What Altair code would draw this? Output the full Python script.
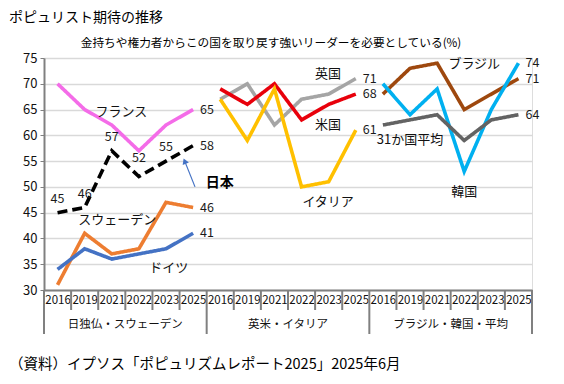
import altair as alt
import pandas as pd

FONT = "Noto Sans CJK JP"

years = ["2016", "2019", "2021", "2022", "2023", "2025"]
groups = ["日独仏・スウェーデン", "英米・イタリア", "ブラジル・韓国・平均"]

series_names = ["フランス", "日本", "スウェーデン", "ドイツ", "英国", "米国", "イタリア", "ブラジル", "韓国", "31か国平均"]
series_group = [0, 0, 0, 0, 1, 1, 1, 2, 2, 2]
france = [70, 65, 62, 57, 62, 65]
japan = [45, 46, 57, 52, 55, 58]
sweden = [31, 41, 37, 38, 47, 46]
germany = [34, 38, 36, 37, 38, 41]
uk = [67, 70, 62, 67, 68, 71]
us = [69, 66, 70, 63, 66, 68]
italy = [67, 59, 69, 50, 51, 61]
brazil = [68, 73, 74, 65, 68, 71]
korea = [70, 64, 69, 53, 65, 74]
average = [62, 63, 64, 59, 63, 64]
series_values = [france, japan, sweden, germany, uk, us, italy, brazil, korea, average]
colors = ["#F46CE8", "#000000", "#ED7D31", "#4472C4", "#A5A5A5", "#E8000B", "#FFC000", "#9E480E", "#00B0F0", "#636363"]
dashes = [[1, 0], [10, 5], [1, 0], [1, 0], [1, 0], [1, 0], [1, 0], [1, 0], [1, 0], [1, 0]]

# annotation labels for series names: (text, x in band units, y in value units)
name_labels = [
    ("フランス", 2.85, 64.5), ("スウェーデン", 2.7, 43.6), ("ドイツ", 4.6, 34.3),
    ("英国", 10.48, 71.9), ("米国", 10.48, 62.0), ("イタリア", 10.48, 47.0),
    ("ブラジル", 15.87, 73.8), ("31か国平均", 13.5, 59.1), ("韓国", 15.5, 49.0),
]

rows = []
for name, g, vals in zip(series_names, series_group, series_values):
    for i, v in enumerate(vals):
        rows.append({"series": name, "pos": g * 6 + i + 0.5, "value": v, "idx": i,
                     "last": i == len(vals) - 1})
df = pd.DataFrame(rows)

W, H = 488, 232
xs = alt.Scale(domain=[0, 18], nice=False, zero=False)
ys = alt.Scale(domain=[30, 75], nice=False, zero=False)

x_axis = alt.Axis(
    values=[i + 0.5 for i in range(18)],
    labelExpr="['2016','2019','2021','2022','2023','2025'][floor(datum.value) % 6]",
    ticks=False, grid=False, domainColor="#808080", domainWidth=2,
    labelFontSize=11.5, labelFont=FONT, labelColor="#111", labelPadding=4,
    labelOverlap=False, labelFlush=False, labelAngle=0, title=None)
y_axis = alt.Axis(
    values=list(range(30, 80, 5)), grid=True, gridColor="#D9D9D9", gridWidth=1.5,
    domainColor="#808080", domainWidth=2, tickColor="#808080", tickSize=4,
    labelFontSize=13, labelFont=FONT, labelColor="#111", labelPadding=3,
    labelOverlap=False, labelFlush=False, title=None)

X = alt.X("pos:Q", scale=xs, axis=x_axis)
Y = alt.Y("value:Q", scale=ys, axis=y_axis)

base = alt.Chart(df)

lines = base.mark_line(strokeWidth=3.6, strokeCap="butt", strokeJoin="miter").encode(
    x=X, y=Y,
    color=alt.Color("series:N", scale=alt.Scale(domain=series_names, range=colors), legend=None),
    strokeDash=alt.StrokeDash("series:N", scale=alt.Scale(domain=series_names, range=dashes), legend=None),
    detail="series:N",
)

end_labels = base.transform_filter("datum.last").mark_text(
    align="left", baseline="middle", dx=7, fontSize=12.5, font=FONT, color="#1a1a1a"
).encode(x=X, y=Y, text="value:Q")

jp_labels = base.transform_filter("datum.series == '日本' && !datum.last && datum.idx != 3").mark_text(
    align="center", baseline="middle", dy=-14, fontSize=12.5, font=FONT, color="#1a1a1a"
).encode(x=X, y=Y, text="value:Q")

jp_label52 = base.transform_filter("datum.series == '日本' && datum.idx == 3").mark_text(
    align="center", baseline="middle", dy=-19, fontSize=12.5, font=FONT, color="#1a1a1a"
).encode(x=X, y=Y, text="value:Q")

ndf = pd.DataFrame(name_labels, columns=["text", "pos", "value"])
names = alt.Chart(ndf).mark_text(
    align="center", baseline="middle", fontSize=13, font=FONT, color="#111"
).encode(x=X, y=Y, text="text:N")

jp_name = alt.Chart(pd.DataFrame({"text": ["日本"], "pos": [5.97], "value": [50.8]})).mark_text(
    align="left", baseline="middle", fontSize=14, fontWeight="bold", font=FONT, color="#000"
).encode(x=X, y=Y, text="text:N")

arrow_df = pd.DataFrame({"pos": [5.57], "value": [50.0], "pos2": [5.19], "value2": [55.0]})
arrow_line = alt.Chart(arrow_df).mark_rule(color="#4472C4", strokeWidth=1.2).encode(
    x=X, y=Y, x2="pos2:Q", y2="value2:Q")
arrow_head = alt.Chart(arrow_df).mark_point(
    shape="triangle-up", filled=True, size=45, angle=338, color="#4472C4", opacity=1
).encode(x=alt.X("pos2:Q", scale=xs, axis=x_axis), y=alt.Y("value2:Q", scale=ys, axis=y_axis))

sep_df = pd.DataFrame({"pos": list(range(19)), "major": [i % 6 == 0 for i in range(19)]})
minor_ticks = alt.Chart(sep_df).transform_filter("!datum.major").mark_rule(
    color="#808080", strokeWidth=2).encode(
    x=X, y=alt.value(H), y2=alt.value(H + 20))
major_ticks = alt.Chart(sep_df).transform_filter("datum.major").mark_rule(
    color="#808080", strokeWidth=2).encode(
    x=X, y=alt.value(H), y2=alt.value(H + 44))

gdf = pd.DataFrame({"group": groups, "pos": [3, 9, 15]})
group_labels = alt.Chart(gdf).mark_text(
    align="center", baseline="middle", fontSize=11.5, font=FONT, color="#111"
).encode(x=X, y=alt.value(H + 35), text="group:N")

title = alt.Chart(pd.DataFrame({"t": ["ポピュリスト期待の推移"]})).mark_text(
    align="left", baseline="middle", fontSize=14, font=FONT, color="#000"
).encode(x=alt.value(-35), y=alt.value(-40), text="t:N")
subtitle = alt.Chart(pd.DataFrame({"t": ["金持ちや権力者からこの国を取り戻す強いリーダーを必要としている(%)"]})).mark_text(
    align="center", baseline="middle", fontSize=11.7, font=FONT, color="#000"
).encode(x=alt.value(227), y=alt.value(-15), text="t:N")
source = alt.Chart(pd.DataFrame({"t": ["（資料）イプソス「ポピュリズムレポート2025」2025年6月"]})).mark_text(
    align="left", baseline="middle", fontSize=14.5, font=FONT, color="#000"
).encode(x=alt.value(-35), y=alt.value(H + 75), text="t:N")

chart = alt.layer(
    lines, minor_ticks, major_ticks, end_labels, jp_labels, jp_label52, names, jp_name,
    arrow_line, arrow_head, group_labels, title, subtitle, source
).properties(
    width=W, height=H,
    autosize=alt.AutoSizeParams(type="none"),
    padding={"left": 36, "top": 50, "right": 24, "bottom": 92},
).configure_view(stroke=None).configure(background="white")

chart.save("out.html", embed_options={"renderer": "svg", "actions": False})
